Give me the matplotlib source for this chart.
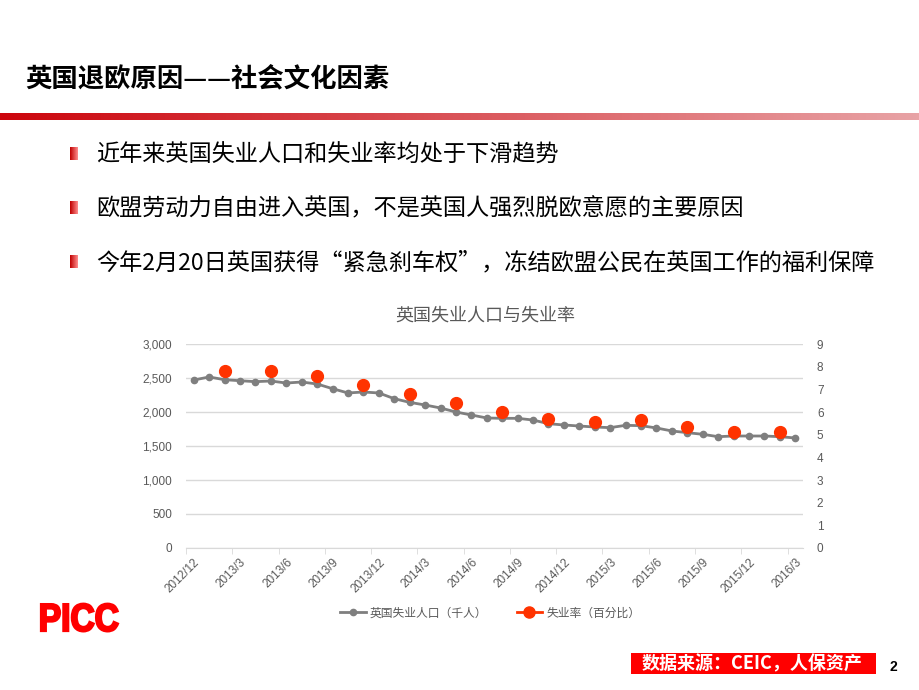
import numpy as np
import matplotlib
matplotlib.use('Agg')
import matplotlib.pyplot as plt
from matplotlib.patches import Rectangle, PathPatch
from matplotlib.lines import Line2D
from matplotlib.textpath import TextPath
from matplotlib.font_manager import FontProperties
from matplotlib.transforms import Affine2D, IdentityTransform

plt.rcParams['font.family'] = ['Noto Sans CJK SC', 'DejaVu Sans']

# monthly categories 2012/12 .. 2016/3
months = []
y, m = 2012, 12
for i in range(40):
    months.append('%d/%d' % (y, m))
    m += 1
    if m > 12:
        m = 1
        y += 1

unemployed = [2470, 2515, 2475, 2460, 2446, 2456, 2426, 2441, 2412, 2343,
              2280, 2294, 2280, 2196, 2142, 2103, 2059, 2000, 1956, 1912,
              1907, 1907, 1882, 1828, 1809, 1794, 1779, 1770, 1804, 1799,
              1765, 1721, 1696, 1672, 1637, 1647, 1647, 1647, 1637, 1618]
rate_idx = [2, 5, 8, 11, 14, 17, 20, 23, 26, 29, 32, 35, 38]
rate = [7.8, 7.8, 7.6, 7.2, 6.8, 6.4, 6.0, 5.7, 5.55, 5.65, 5.35, 5.1, 5.1]

title = '英国退欧原因——社会文化因素'
bullets = ['近年来英国失业人口和失业率均处于下滑趋势',
           '欧盟劳动力自由进入英国，不是英国人强烈脱欧意愿的主要原因',
           '今年2月20日英国获得“紧急刹车权”，冻结欧盟公民在英国工作的福利保障']
chart_title = '英国失业人口与失业率'
legend_labels = ['英国失业人口（千人）', '失业率（百分比）']
source = '数据来源：CEIC，人保资产'

W, H = 920, 690
fig = plt.figure(figsize=(9.2, 6.9), dpi=100)

def fx(px):
    return px / W

def fy(py):
    return 1 - py / H

num_font = ['Liberation Sans', 'DejaVu Sans']

# page header
fig.text(fx(25), fy(79), title, fontsize=19, fontweight='bold', color='black',
         va='center', ha='left')
bar = fig.add_axes([0, fy(120), 1, 7 / H])
grad = np.linspace(0, 1, 256)
c0 = np.array([0.80, 0.02, 0.05])
c1 = np.array([0.91, 0.64, 0.65])
img = c0[None, None, :] * (1 - grad[None, :, None]) + c1[None, None, :] * grad[None, :, None]
bar.imshow(img, aspect='auto', extent=[0, 1, 0, 1])
bar.axis('off')

# bullets with small red gradient squares
sq = np.linspace(0, 1, 32)
s0 = np.array([0.75, 0.0, 0.0])
s1 = np.array([1.0, 0.55, 0.55])
sq_img = s0[None, None, :] * (1 - sq[None, :, None]) + s1[None, None, :] * sq[None, :, None]
for k, txt in enumerate(bullets):
    yc = [155, 209, 263][k]
    bax = fig.add_axes([fx(70), fy(yc + 5), 8 / W, 13 / H])
    bax.imshow(sq_img, aspect='auto', extent=[0, 1, 0, 1])
    bax.axis('off')
    fig.text(fx(96), fy(yc), txt, fontsize=16.7, color='black', va='center', ha='left')

# chart
ax = fig.add_axes([fx(186), fy(548), (803 - 186) / W, (548 - 344) / H])
x = np.arange(len(months))
ax.plot(x, unemployed, color='#7f7f7f', lw=2.0, marker='o', ms=4.5, zorder=3)
ax.set_xlim(-0.5, len(months) - 0.5)
ax.set_ylim(0, 3000)
ax.set_yticks(np.arange(0, 3001, 500))
ax.set_yticklabels(['{:,}'.format(v) for v in range(0, 3001, 500)], family=num_font)
ax.grid(axis='y', color='#d9d9d9', lw=1)
ax.set_axisbelow(True)
for s in ['top', 'left', 'right']:
    ax.spines[s].set_visible(False)
ax.spines['bottom'].set_color('#d9d9d9')
ax.tick_params(axis='y', length=0, labelsize=8.5, labelcolor='#595959', pad=10)
ax.set_xticks(x[::3])
ax.set_xticklabels(months[::3], rotation=45, ha='right', rotation_mode='anchor',
                   fontsize=8.5, color='#595959', family=num_font)
ax.tick_params(axis='x', length=0, pad=6)
ax.set_xticks(np.arange(-0.5, len(months), 3), minor=True)
ax.tick_params(axis='x', which='minor', length=4, color='#d9d9d9')

ax2 = ax.twinx()
ax2.plot(rate_idx, rate, ls='none', marker='o', ms=8.5, color='#ff3300', zorder=4)
ax2.set_ylim(0, 9)
ax2.set_yticks(range(10))
ax2.set_yticklabels([str(v) for v in range(10)], family=num_font)
for s in ax2.spines.values():
    s.set_visible(False)
ax2.tick_params(axis='y', length=0, labelsize=8.5, labelcolor='#595959', pad=10)

fig.text(fx(485), fy(316), chart_title, fontsize=13, color='#595959', ha='center', va='center')

handles = [Line2D([], [], color='#7f7f7f', lw=2, marker='o', ms=4.5),
           Line2D([], [], color='#ff3300', lw=2, marker='o', ms=8)]
fig.legend(handles, legend_labels, loc='center', bbox_to_anchor=(fx(490), fy(613)),
           ncol=2, frameon=False, fontsize=8.5, labelcolor='#595959',
           handlelength=2.2, columnspacing=2.5, handletextpad=0.3)

# PICC logo, squeezed horizontally
tp = TextPath((0, 0), 'PICC', size=1, prop=FontProperties(family='Liberation Sans', weight='bold'))
ext = tp.get_extents()
sy = 28 / 0.716
sx = 77 / ext.width
tr = Affine2D().scale(sx, sy).translate(41 - ext.x0 * sx, H - 631)
fig.add_artist(PathPatch(tp, transform=tr + IdentityTransform(), facecolor='#ff0000',
                         edgecolor='#ff0000', lw=1.6))

# footer
fig.add_artist(Rectangle((fx(631), fy(674)), 245 / W, 21 / H, transform=fig.transFigure,
                         facecolor='#ff0000', edgecolor='none'))
fig.text(fx(752), fy(664), source, fontsize=13, fontweight='bold', color='white',
         ha='center', va='center')
fig.text(fx(893), fy(667), '2', fontsize=10, fontweight='bold', color='black',
         ha='center', va='center', family=num_font)

fig.savefig('out.png', dpi=100)
